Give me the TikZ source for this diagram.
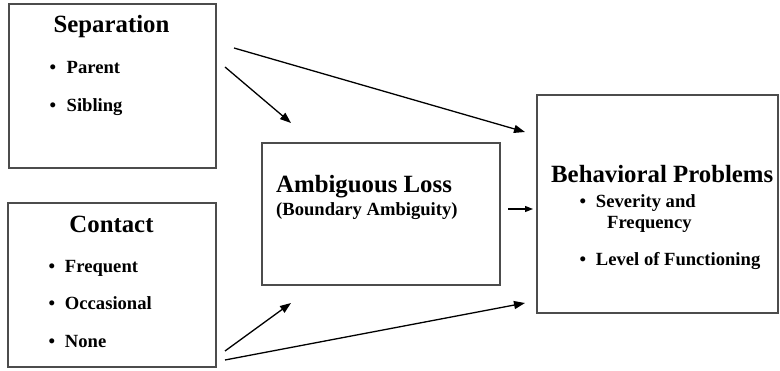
\documentclass[tikz,border=0pt]{standalone}
\usepackage{fontspec}
\setmainfont{Liberation Serif}
\usetikzlibrary{arrows.meta}
\begin{document}
\begin{tikzpicture}[x=1pt,y=-1pt,
  box/.style={draw=black!70,line width=1.4pt},
  title/.style={inner sep=0pt,anchor=base,font=\fontsize{24.8}{28}\selectfont\bfseries},
  titlew/.style={inner sep=0pt,anchor=base west,font=\fontsize{24.8}{28}\selectfont\bfseries},
  item/.style={inner sep=0pt,anchor=base west,font=\fontsize{18.6}{22}\selectfont\bfseries},
  conn/.style={line width=1.3pt,-{Triangle[length=11pt,width=8pt]}}]
\useasboundingbox (0,0) rectangle (780,371);
% boxes
\draw[box] (9,4) rectangle (216,168);
\draw[box] (8,203) rectangle (216,367);
\draw[box] (262,143) rectangle (500,285);
\draw[box] (537,95) rectangle (778,313);
% Separation
\node[title] (sep) at (111.5,33) {Separation};
\node[item] (sep1) at (49.5,73.5) {•\hspace{10.5pt}Parent};
\node[item] (sep2) at (49.5,112) {•\hspace{10.5pt}Sibling};
% Contact
\node[title] (con) at (111.5,233) {Contact};
\node[item] (con1) at (48.5,273) {•\hspace{9.8pt}Frequent};
\node[item] (con2) at (48.5,310) {•\hspace{9.8pt}Occasional};
\node[item] (con3) at (48.5,348) {•\hspace{9.8pt}None};
% Ambiguous loss
\node[titlew] (amb) at (276,193) {Ambiguous Loss};
\node[item] (amb1) at (276,216) {(Boundary Ambiguity)};
% Behavioral problems
\node[titlew] (beh) at (551,183) {Behavioral Problems};
\node[item] (beh1) at (579.5,208) {•\hspace{9.8pt}Severity and};
\node[item] (beh2) at (607,229) {Frequency};
\node[item] (beh3) at (579.5,266) {•\hspace{9.8pt}Level of Functioning};
% arrow endpoints
\coordinate (a1s) at (234,48);  \coordinate (a1e) at (525,132);
\coordinate (a2s) at (225,67);  \coordinate (a2e) at (291,123);
\coordinate (a3s) at (225,351); \coordinate (a3e) at (291,303);
\coordinate (a4s) at (225,360); \coordinate (a4e) at (525,303);
\coordinate (a5s) at (508,209); \coordinate (a5e) at (533,209);
\draw[conn] (a1s) -- (a1e);
\draw[conn] (a2s) -- (a2e);
\draw[conn] (a3s) -- (a3e);
\draw[conn] (a4s) -- (a4e);
\draw[conn,-{Triangle[length=8pt,width=6pt]}] (a5s) -- (a5e);
\end{tikzpicture}
\end{document}
